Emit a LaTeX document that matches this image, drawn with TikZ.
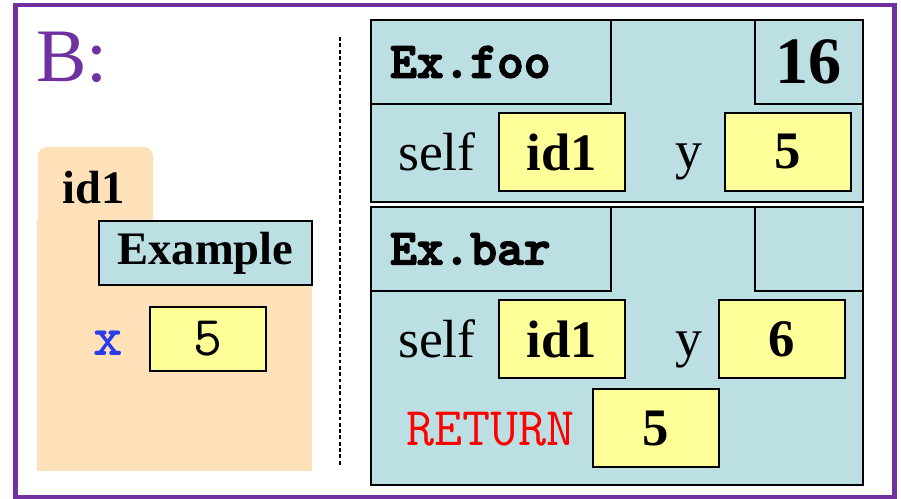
\documentclass[tikz,border=0pt]{standalone}
\usepackage{fontspec}
\setmainfont{Liberation Serif}
\newfontfamily\slabfont[FakeBold=3]{lmmonolt10-bold.otf}
\usepackage{xcolor}
\usetikzlibrary{positioning}

\definecolor{slidepurple}{RGB}{112,48,160}
\definecolor{framecyan}{RGB}{187,223,227}
\definecolor{cellyellow}{RGB}{255,255,153}
\definecolor{objpeach}{RGB}{254,225,184}
\definecolor{varblue}{RGB}{40,60,235}

\begin{document}
\begin{tikzpicture}[x=0.02cm, y=-0.02cm,
    frame/.style={rectangle, draw, fill=framecyan, line width=1pt, inner sep=0pt, minimum width=9.84cm},
    head/.style={rectangle, draw, fill=framecyan, line width=1pt, minimum height=1.68cm},
    callname/.style={head, anchor=north west, minimum width=4.8cm, text width=4.04cm, inner xsep=0.38cm, align=left, font=\slabfont\fontsize{29}{34}\selectfont},
    counter/.style={head, anchor=north east, minimum width=2.16cm, font=\bfseries\fontsize{37.7}{40}\selectfont},
    cell/.style={rectangle, draw, fill=cellyellow, line width=1pt, minimum width=2.52cm, minimum height=1.56cm, inner sep=0pt, font=\bfseries\fontsize{30}{34}\selectfont},
    lbl/.style={inner sep=0pt, font=\fontsize{30.6}{34}\selectfont}]

    \useasboundingbox (0,0) rectangle (901,499);
    \draw[slidepurple, line width=2.8pt] (15.5,5) rectangle (894.5,497);

    \node[anchor=base west, inner sep=0pt, text=slidepurple, font=\fontsize{43}{48}\selectfont] (title) at (36,82) {B:};

    % heap object
    \fill[objpeach, rounded corners=0.18cm] (38,147) rectangle (153,250);
    \fill[objpeach] (37,220) rectangle (312,471);
    \node[anchor=base, inner sep=0pt, font=\bfseries\fontsize{26.5}{30}\selectfont] (objid) at (94,204) {id1};
    \node[rectangle, draw, fill=framecyan, line width=1pt, minimum width=4.26cm, minimum height=1.28cm, inner sep=0pt, font=\bfseries\fontsize{26.5}{30}\selectfont] (cls) at (205.5,253) {Example};
    \node[cell, minimum width=2.32cm, minimum height=1.28cm, font=\ttfamily\fontsize{32}{36}\selectfont] (xval) at (208,339) {5};
    \node[lbl, base left=0.52cm of xval, text=varblue, font=\ttfamily\bfseries\fontsize{32}{36}\selectfont] (xname) {x};

    \coordinate (divtop) at (340,37);
    \coordinate (divbot) at (340,465);
    \draw[line width=0.6pt, dash pattern=on 2.2pt off 1.4pt] (divtop) -- (divbot);

    % call frame of foo
    \node[frame, minimum height=3.64cm] (foo) at (617,111) {};
    \node[callname] (foohead) at (foo.north west) {Ex.foo};
    \node[counter] (foonum) at (foo.north east) {16};
    \node[cell] (fooself) at (562,152) {id1};
    \node[cell] (fooy) at (788,152) {5};
    \node[lbl, base left=0.44cm of fooself] (fooselfname) {self};
    \node[lbl, base left=0.42cm of fooy] (fooyname) {y};

    % call frame of bar
    \node[frame, minimum height=5.56cm] (bar) at (617,346) {};
    \node[callname] (barhead) at (bar.north west) {Ex.bar};
    \node[counter] (barnum) at (bar.north east) {};
    \node[cell] (barself) at (562,339) {id1};
    \node[cell] (bary) at (782,339) {6};
    \node[lbl, base left=0.44cm of barself] (barselfname) {self};
    \node[lbl, base left=0.3cm of bary] (baryname) {y};
    \node[cell] (barret) at (656,428) {5};
    \node[lbl, base left=0.34cm of barret, text=red, font=\ttfamily\fontsize{31}{36}\selectfont] (retname) {RETURN};
\end{tikzpicture}
\end{document}
